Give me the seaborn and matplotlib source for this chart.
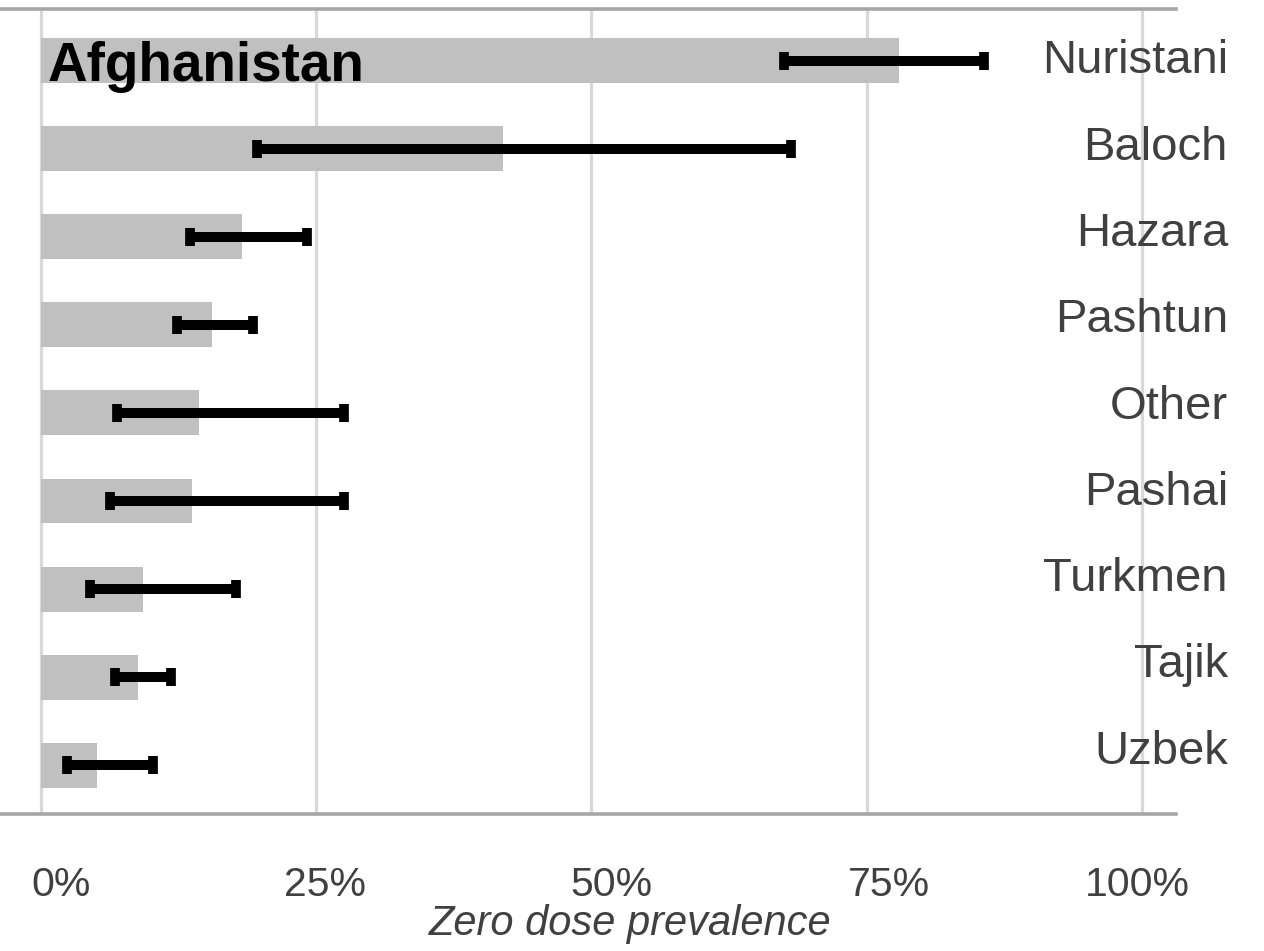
import numpy as np
import pandas as pd
import matplotlib
matplotlib.use("Agg")
import matplotlib.pyplot as plt
import matplotlib.transforms as mtransforms
import seaborn as sns

# data (percent)
groups = ["Nuristani", "Baloch", "Hazara", "Pashtun", "Other",
          "Pashai", "Turkmen", "Tajik", "Uzbek"]
prevalence = [77.9, 42.0, 18.3, 15.5, 14.4, 13.7, 9.3, 8.8, 5.1]
ci_low = [67.5, 19.6, 13.5, 12.4, 6.9, 6.3, 4.5, 6.7, 2.4]
ci_high = [85.7, 68.1, 24.2, 19.3, 27.5, 27.5, 17.7, 11.8, 10.2]
xticks = [0, 25, 50, 75, 100]
xtick_labels = ["0%", "25%", "50%", "75%", "100%"]

sns.set_style("white")
plt.rcParams["font.family"] = ["Liberation Sans", "DejaVu Sans"]

df = pd.DataFrame({"group": groups, "prev": prevalence,
                   "lo": ci_low, "hi": ci_high})

fig = plt.figure(figsize=(12.64, 9.51), dpi=100)
ax = fig.add_axes([0.0, 0.1441, 0.9304, 0.8464])

sns.barplot(data=df, x="prev", y="group", orient="h", color="#c0c0c0",
            saturation=1, width=0.51, linewidth=0, ax=ax, zorder=2)

ypos = np.arange(len(groups))
xerr = [df["prev"] - df["lo"], df["hi"] - df["prev"]]
ax.errorbar(df["prev"], ypos, xerr=xerr, fmt="none", ecolor="black",
            elinewidth=7.2, capsize=6.6, capthick=7, zorder=3)

ax.set_xlim(-3.72, 103.1)
ax.set_ylim(8.553, -0.585)
ax.set_xticks(xticks)
ax.set_xticklabels([])
ax.set_yticks([])
ax.set_xlabel("")
ax.set_ylabel("")
ax.tick_params(length=0)
ax.grid(axis="x", color="#d9d9d9", linewidth=2.3, zorder=0)
ax.set_axisbelow(True)

for s in ["left", "right"]:
    ax.spines[s].set_visible(False)
for s in ["top", "bottom"]:
    ax.spines[s].set_color("#a6a6a6")
    ax.spines[s].set_linewidth(2.6)

# x tick labels, placed a little off their gridlines as in the original
dx_px = [20, 9, 20, 22, -5]
trans = mtransforms.blended_transform_factory(ax.transData, ax.transAxes)
for t, lab, dx in zip(xticks, xtick_labels, dx_px):
    off = mtransforms.ScaledTranslation(dx / 100, 0, fig.dpi_scale_trans)
    ax.text(t, -0.1019, lab, transform=trans + off, ha="center",
            va="baseline", fontsize=29.5, color="#404040", clip_on=False)

fig.text(630 / 1264, (951 - 935) / 951, "Zero dose prevalence", ha="center",
         va="baseline", fontsize=30, style="italic", color="#404040")

# group names on the right
ax2 = ax.twinx()
ax2.set_ylim(8.78, -0.55)
ax2.set_yticks(ypos)
ax2.set_yticklabels(groups, fontsize=34, color="#404040", ha="right")
ax2.tick_params(axis="y", length=0, pad=37.4)
for s in ax2.spines.values():
    s.set_visible(False)

ax.text(0.0408, 0.910, "Afghanistan", transform=ax.transAxes, ha="left",
        va="baseline", fontsize=39.5, fontweight="bold", color="black",
        zorder=5)

fig.savefig("out.png", dpi=100)
